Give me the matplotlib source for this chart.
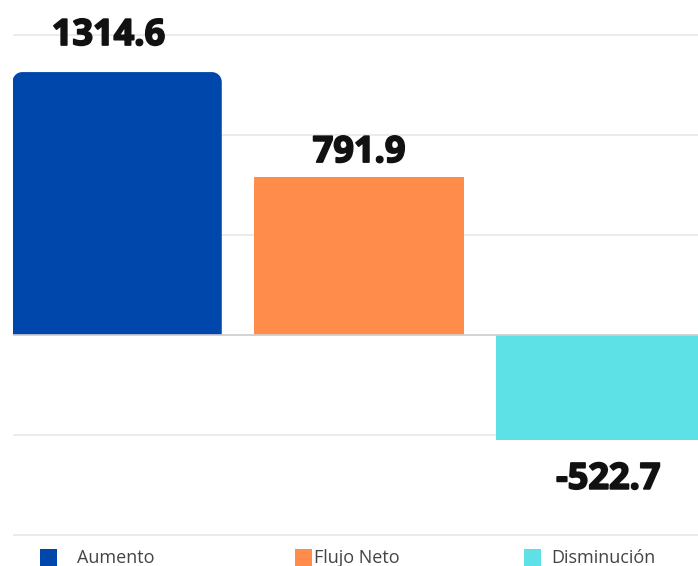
import matplotlib
matplotlib.use("Agg")
import matplotlib.pyplot as plt
from matplotlib.patches import Rectangle, Polygon
import matplotlib.patheffects as pe
import numpy as np

categories = ["Aumento", "Flujo Neto", "Disminución"]
values = [1314.6, 791.9, -522.7]
value_labels = ["1314.6", "791.9", "-522.7"]
colors = ["#0047AB", "#FF8C4B", "#5DE0E6"]
grid_ticks = [-1000, -500, 0, 500, 1000, 1500]

W, H = 698, 566
fig = plt.figure(figsize=(W / 100, H / 100), dpi=100)
ax = fig.add_axes([13 / W, (H - 537) / H, 1 - 13 / W, 537 / H])

x = list(range(len(values)))
width = 0.865
bars = ax.bar(x, values, width=width, color=colors, zorder=3, linewidth=0)
ax.set_xlim(-0.43, 2.40)
ax.set_ylim(-1010, 1675)

# rounded top corners for the first bar (single outline, no seams)
fig.canvas.draw()
b = bars[0]
bx, by, bw, bh = b.get_x(), b.get_y(), b.get_width(), b.get_height()
inv = ax.transData.inverted()
p0 = inv.transform((0, 0)); p1 = inv.transform((10, 10))
rx = p1[0] - p0[0]; ry = p1[1] - p0[1]
top = by + bh
t = np.linspace(0, np.pi / 2, 20)
left_arc = np.column_stack([bx + rx - rx * np.cos(t), top - ry + ry * np.sin(t)])
right_arc = np.column_stack([bx + bw - rx + rx * np.sin(t), top - ry + ry * np.cos(t)])
verts = np.vstack([[[bx, by]], left_arc, right_arc, [[bx + bw, by]]])
b.set_visible(False)
ax.add_patch(Polygon(verts, closed=True, facecolor=colors[0], edgecolor="none",
                     linewidth=0, zorder=3))

ax.set_yticks(grid_ticks)
ax.yaxis.grid(True, color="#e8e8e8", linewidth=1.2, zorder=0)
ax.axhline(0, color="#d0d0d0", linewidth=1.2, zorder=4)
ax.tick_params(left=False, bottom=False, labelleft=False, labelbottom=False)
for s in ax.spines.values():
    s.set_visible(False)

label_offsets = [26, 17, -29]
label_x_shift = [-0.035, 0, 0.03]
for i, (v, lab) in enumerate(zip(values, value_labels)):
    ax.annotate(lab, (x[i] + label_x_shift[i], v), xytext=(0, label_offsets[i]),
                textcoords="offset points", ha="center", va="center",
                fontsize=26, fontweight="bold", family=["Open Sans", "DejaVu Sans"],
                color="#111111", clip_on=False, annotation_clip=False,
                path_effects=[pe.withStroke(linewidth=1.3, foreground="#111111")])

# legend
leg_marker_x = [40, 295, 524]
leg_text_x = [77, 314, 551]
leg_y = 558
for i, cat in enumerate(categories):
    fig.patches.append(Rectangle((leg_marker_x[i] / W, (H - leg_y - 8) / H), 17 / W, 17 / H,
                                 transform=fig.transFigure, facecolor=colors[i],
                                 edgecolor="none"))
    fig.text(leg_text_x[i] / W, (H - leg_y) / H, cat, fontsize=13,
             family=["Open Sans", "DejaVu Sans"], color="#444444", va="center", ha="left")

fig.savefig("out.png", dpi=100)
